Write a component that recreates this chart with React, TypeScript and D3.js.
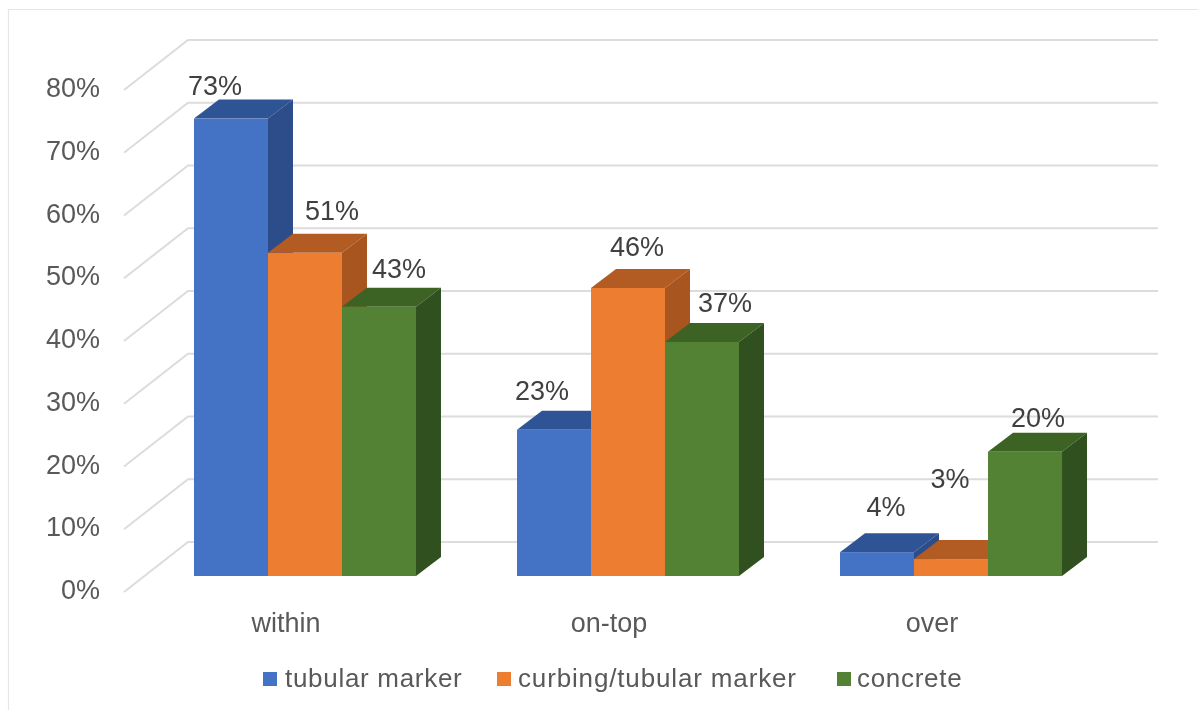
import React from "react";
import * as d3 from "d3";

const categories = ["within", "on-top", "over"];
const seriesNames = ["tubular marker", "curbing/tubular marker", "concrete"];
const tubularMarker = [72.9, 23.3, 3.8];
const curbingMarker = [51.5, 45.9, 2.7];
const concrete = [42.9, 37.3, 19.8];
const tubularLabels = ["73%", "23%", "4%"];
const curbingLabels = ["51%", "46%", "3%"];
const concreteLabels = ["43%", "37%", "20%"];
const yTicks = [0, 10, 20, 30, 40, 50, 60, 70, 80];

const seriesValues = [tubularMarker, curbingMarker, concrete];
const seriesLabels = [tubularLabels, curbingLabels, concreteLabels];
const fronts = ["#4472c4", "#ed7d31", "#548235"];
const tops = ["#2e5496", "#b25b22", "#3c6323"];
const sides = ["#2c4c8a", "#a8551f", "#31501f"];

// label nudges [dx from bar left, dy from bar top], per series / category
const nudges = [
  [[21, -24], [25, -30], [46, -36]],
  [[64, -33], [46, -32], [36, -71]],
  [[57, -29], [60, -30], [50, -25]],
];
const legendSwatchX = [263, 497, 837];
const legendTextX = [285, 518, 857];
const legendSpacing = [0.7, 0.85, 0.7];

const WALL_DX = 64, WALL_DY = -50;
const DEPTH_DX = 25, DEPTH_DY = -19;
const FONT = "'Liberation Sans', Arial, sans-serif";

export default function App() {
  const y = d3.scaleLinear().domain([0, 80]).range([592, 90]);
  const yBar = d3.scaleLinear().domain([0, 80]).range([576, 74]);
  const x0 = d3.scaleBand<string>().domain(categories).range([143.5, 1112.5]).paddingInner(0.3127).paddingOuter(0.1563);
  const x1 = d3.scaleBand<string>().domain(seriesNames).range([0, x0.bandwidth()]);
  const w = x1.bandwidth();
  const poly = (pts: [number, number][]) => (d3.line()(pts) ?? "") + "Z";

  return (
    <svg width={1198} height={710} style={{ position: "absolute", left: 0, top: 0, background: "#fff", filter: "blur(0.45px)" }} fontFamily={FONT}>
      <path d="M8.5,710V9.5H1198" fill="none" stroke="#e6e6e6" strokeWidth={1.2} />
      {yTicks.map((t) => (
        <g key={t}>
          <path
            d={d3.line()([[124, y(t)], [124 + WALL_DX, y(t) + WALL_DY], [1158, y(t) + WALL_DY]]) ?? ""}
            fill="none" stroke="#dcdcdc" strokeWidth={2}
          />
          <text x={100} y={y(t) + 7} textAnchor="end" fontSize={27} fill="#595959">{t}%</text>
        </g>
      ))}
      {categories.map((c, ci) => (
        <g key={c}>
          {seriesNames.map((s, si) => {
            const bx = (x0(c) ?? 0) + (x1(s) ?? 0);
            const top = yBar(seriesValues[si][ci]);
            const base = yBar(0);
            return (
              <g key={s}>
                <path d={poly([[bx, top], [bx + DEPTH_DX, top + DEPTH_DY], [bx + w + DEPTH_DX, top + DEPTH_DY], [bx + w, top]])} fill={tops[si]} />
                <path d={poly([[bx + w, top], [bx + w + DEPTH_DX, top + DEPTH_DY], [bx + w + DEPTH_DX, base + DEPTH_DY], [bx + w, base]])} fill={sides[si]} />
                <rect x={bx} y={top} width={w} height={base - top} fill={fronts[si]} />
              </g>
            );
          })}
        </g>
      ))}
      {categories.map((c, ci) =>
        seriesNames.map((s, si) => {
          const bx = (x0(c) ?? 0) + (x1(s) ?? 0);
          const top = yBar(seriesValues[si][ci]);
          return (
            <text key={c + s} x={bx + nudges[si][ci][0]} y={top + nudges[si][ci][1]} textAnchor="middle" fontSize={27} fill="#404040">
              {seriesLabels[si][ci]}
            </text>
          );
        })
      )}
      {categories.map((c) => (
        <text key={c} x={(x0(c) ?? 0) + x0.bandwidth() / 2 - 19} y={632} textAnchor="middle" fontSize={27} fill="#595959">{c}</text>
      ))}
      {seriesNames.map((s, i) => (
        <g key={s}>
          <rect x={legendSwatchX[i]} y={672} width={14} height={14} fill={fronts[i]} />
          <text x={legendTextX[i]} y={687} fontSize={26} letterSpacing={legendSpacing[i]} fill="#595959">{s}</text>
        </g>
      ))}
    </svg>
  );
}
